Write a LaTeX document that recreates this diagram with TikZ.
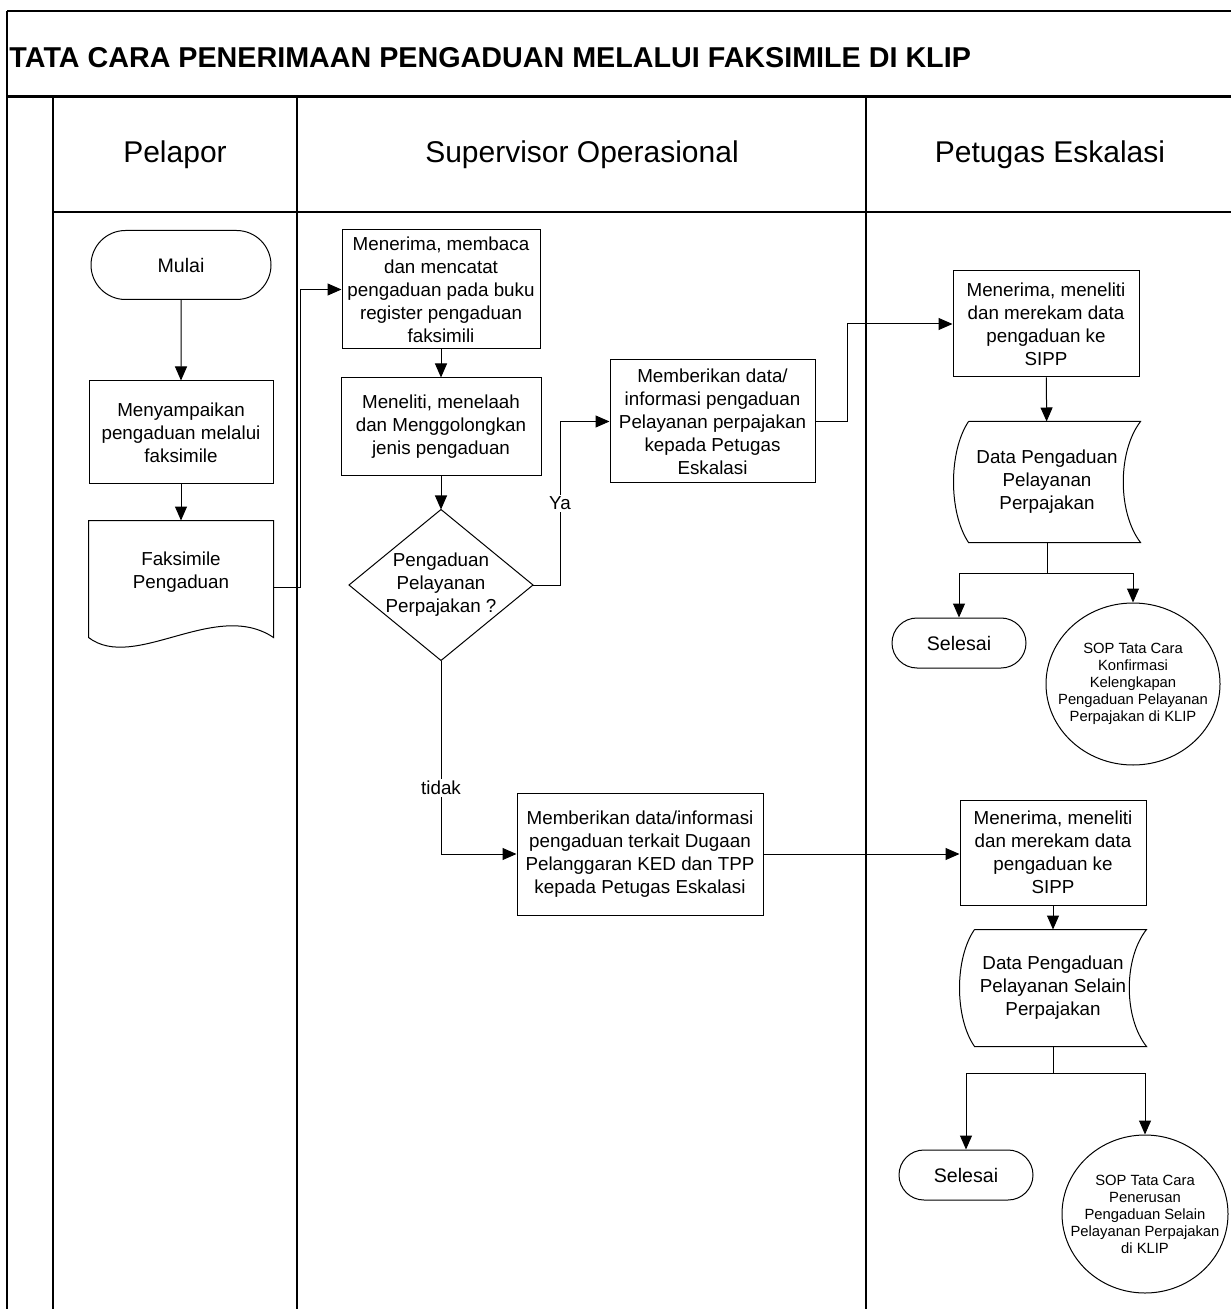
\documentclass[tikz,border=0pt]{standalone}
\usepackage{fontspec}
\setmainfont{Liberation Sans}
\usetikzlibrary{arrows.meta, shapes.geometric, shapes.misc}

\begin{document}
\begin{tikzpicture}[x=0.5pt, y=-0.5pt, >={Triangle[width=6pt,length=7pt]}, line width=0.5pt,
    lane/.style={line width=0.8pt},
    box/.style={draw, rectangle, align=center, inner xsep=2pt, inner ysep=1pt, font=\fontsize{9.4}{11.5}\selectfont},
    terminal/.style={draw, rounded rectangle, align=center, inner sep=1pt, font=\fontsize{9.8}{11.5}\selectfont},
    doc/.style={rectangle, align=center, inner sep=1pt, font=\fontsize{9.4}{11.5}\selectfont},
    sop/.style={draw, ellipse, align=center, inner sep=-12pt, font=\fontsize{7.4}{8.5}\selectfont},
    head/.style={font=\fontsize{15}{18}\selectfont},
    lbl/.style={fill=white, inner sep=1pt, font=\fontsize{9.4}{11.5}\selectfont}]
    \useasboundingbox (0,0) rectangle (1231,1309);

    % Frame and swimlanes
    \draw[lane] (7,11) -- (1231,11);
    \draw[lane] (7,11) -- (7,1309);
    \draw[line width=1.2pt] (7,96.5) -- (1231,96.5);
    \foreach \lx in {53, 297, 866}
        \draw[lane] (\lx,96.5) -- (\lx,1309);
    \draw[lane] (53,212) -- (1231,212);

    % Title
    \node[anchor=west, inner sep=0pt, font=\bfseries\fontsize{14.35}{16}\selectfont] (title) at (9, 58) {TATA CARA PENERIMAAN PENGADUAN MELALUI FAKSIMILE DI KLIP};

    % Lane headers
    \node[head] (hpelapor) at (175, 155) {Pelapor};
    \node[head] (hsupervisor) at (582, 155) {Supervisor Operasional};
    \node[head] (heskalasi) at (1050, 155) {Petugas Eskalasi};

    % Pelapor
    \node[terminal, minimum width=92pt, minimum height=34.5pt] (mulai) at (181, 265) {Mulai};
    \node[box, minimum width=92pt, minimum height=51.5pt] (kirim) at (181, 432.5) {Menyampaikan\\pengaduan melalui\\faksimile};
    \node[doc, minimum width=92pt, minimum height=51pt] (faks) at (181, 572) {Faksimile\\Pengaduan};
    \draw ([yshift=-7pt]faks.south west) -- (faks.north west) -- (faks.north east) -- ([yshift=-7pt]faks.south east)
        .. controls +(-58,-39) and +(46,35) .. ([yshift=-7pt]faks.south west);

    % Supervisor Operasional
    \node[box, minimum width=99pt, minimum height=59.5pt] (terima) at (441, 289.5) {Menerima, membaca\\dan mencatat\\pengaduan pada buku\\register pengaduan\\faksimili};
    \node[box, minimum width=100pt, minimum height=49pt] (teliti) at (441, 427) {Meneliti, menelaah\\dan Menggolongkan\\jenis pengaduan};
    \node[doc, minimum width=91.5pt, minimum height=75pt] (dec) at (441, 585) {Pengaduan\\Pelayanan\\Perpajakan ?};
    \draw (dec.north) -- (dec.east) -- (dec.south) -- (dec.west) -- cycle;
    \node[box, minimum width=102.5pt, minimum height=61.5pt] (beri1) at (712.5, 421.5) {Memberikan data/\\informasi pengaduan\\Pelayanan perpajakan\\kepada Petugas\\Eskalasi};
    \node[box, minimum width=123pt, minimum height=61pt] (beri2) at (640, 854) {Memberikan data/informasi\\pengaduan terkait Dugaan\\Pelanggaran KED dan TPP\\kepada Petugas Eskalasi};

    % Petugas Eskalasi, perpajakan
    \node[box, minimum width=93pt, minimum height=53pt] (terima2) at (1046, 324) {Menerima, meneliti\\dan merekam data\\pengaduan ke\\SIPP};
    \node[doc, minimum width=93pt, minimum height=60pt] (data1) at (1047, 482) {Data Pengaduan\\Pelayanan\\Perpajakan};
    \draw ([xshift=7.5pt]data1.north west) -- (data1.north east)
        .. controls +(-23,30) and +(-23,-30) .. (data1.south east)
        -- ([xshift=7.5pt]data1.south west)
        .. controls +(-20,-30) and +(-20,30) .. ([xshift=7.5pt]data1.north west);
    \coordinate (split1) at (1047, 573);
    \node[terminal, minimum width=69pt, minimum height=25pt] (selesai1) at (959, 643) {Selesai};
    \node[sop, minimum width=87pt, minimum height=81pt] (sop1) at (1133, 684) {SOP Tata Cara\\Konfirmasi\\Kelengkapan\\Pengaduan Pelayanan\\Perpajakan di KLIP};

    % Petugas Eskalasi, selain perpajakan
    \node[box, minimum width=93pt, minimum height=52.5pt] (terima3) at (1053, 852.5) {Menerima, meneliti\\dan merekam data\\pengaduan ke\\SIPP};
    \node[doc, minimum width=93pt, minimum height=58pt] (data2) at (1053, 988) {Data Pengaduan\\Pelayanan Selain\\Perpajakan};
    \draw ([xshift=7.5pt]data2.north west) -- (data2.north east)
        .. controls +(-23,29) and +(-23,-29) .. (data2.south east)
        -- ([xshift=7.5pt]data2.south west)
        .. controls +(-20,-29) and +(-20,29) .. ([xshift=7.5pt]data2.north west);
    \coordinate (split2) at (1053, 1073);
    \node[terminal, minimum width=69pt, minimum height=25pt] (selesai2) at (966, 1175) {Selesai};
    \node[sop, minimum width=83pt, minimum height=79pt] (sop2) at (1145, 1214) {SOP Tata Cara\\Penerusan\\Pengaduan Selain\\Pelayanan Perpajakan\\di KLIP};

    % Arrows
    \draw[->] (mulai) -- (kirim);
    \draw[->] (kirim) -- (faks);
    \draw[->] ([yshift=-7.5pt]faks.east) -- ++(27,0) |- (terima.west);
    \draw[->] (terima) -- (teliti);
    \draw[->] (teliti) -- (dec);
    \draw[->] (dec.east) -- ++(27,0) |- node[lbl, pos=0.25] (ya) {Ya} (beri1.west);
    \draw[->] (dec.south) |- node[lbl, pos=0.33] (tidak) {tidak} (beri2.west);
    \draw[->] (beri1.east) -- ++(32,0) |- (terima2.west);
    \draw[->] (terima2) -- (data1);
    \draw (data1.south) -- (split1);
    \draw[->] (split1) -| (selesai1.north);
    \draw[->] (split1) -| (sop1.north);
    \draw[->] (beri2.east) -- (beri2.east -| terima3.west);
    \draw[->] (terima3) -- (data2);
    \draw (data2.south) -- (split2);
    \draw[->] (split2) -| (selesai2.north);
    \draw[->] (split2) -| (sop2.north);
\end{tikzpicture}
\end{document}
